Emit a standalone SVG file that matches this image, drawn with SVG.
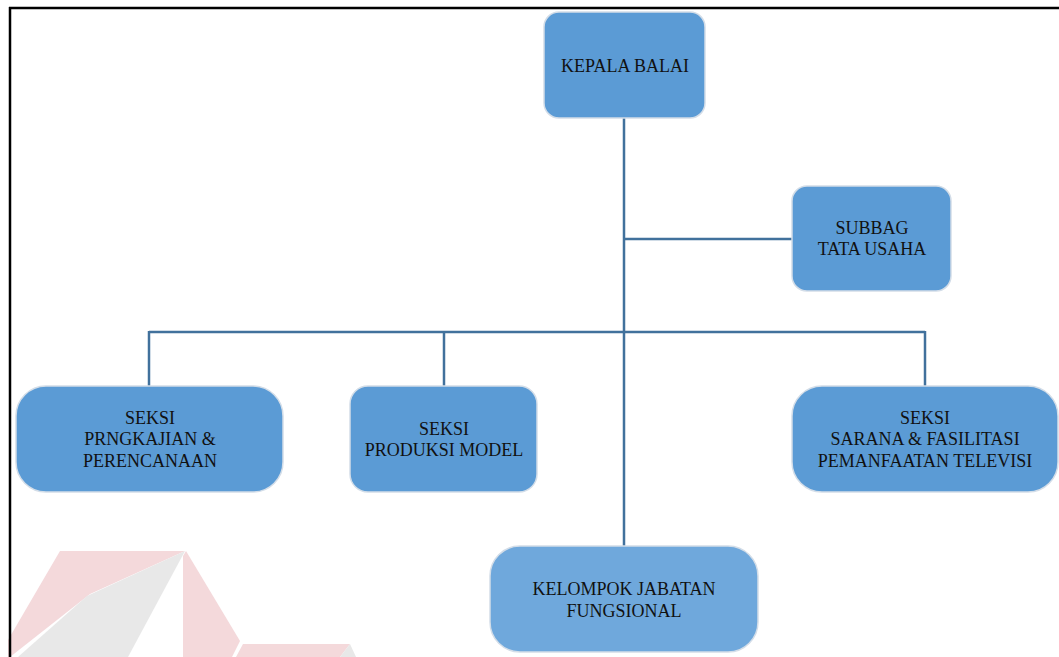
<svg xmlns="http://www.w3.org/2000/svg" width="1059" height="657" viewBox="0 0 1059 657">
<style>
.box{fill:#5B9BD5;stroke:#D3DDE8;stroke-width:1.5}
.box2{fill:#6FA8DC;stroke:#D3DDE8;stroke-width:1.5}
.t{font-family:"Liberation Serif","Times New Roman",serif;font-size:18px;fill:#111;text-anchor:middle}
.c{stroke:#41719C;stroke-width:2.5;fill:none}
</style>
<rect width="1059" height="657" fill="#fff"/>
<g id="watermark" opacity="0.9">
<polygon points="60,551 185,551 90,594 10,657 8,657 8,640" fill="#F3D5D8"/>
<polygon points="87,596 185,551 128,657 18,657" fill="#E6E6E6"/>
<polygon points="183,556 186,551 240,641 232,657 183,657" fill="#F3D5D8"/>
<polygon points="243,644 350,644 340,657 236,657" fill="#F3D5D8"/>
<polygon points="350,644 356,657 340,657" fill="#E6E6E6"/>
</g>
<g id="frame" stroke="#000" stroke-width="2.5" fill="none">
<line x1="9" y1="8" x2="1059" y2="8"/>
<line x1="10" y1="7" x2="10" y2="657"/>
</g>
<g id="connectors">
<line class="c" x1="624" y1="118" x2="624" y2="548"/>
<line class="c" x1="624" y1="239" x2="792" y2="239"/>
<line class="c" x1="149" y1="332" x2="925" y2="332"/>
<line class="c" x1="149" y1="331" x2="149" y2="387"/>
<line class="c" x1="444" y1="331" x2="444" y2="387"/>
<line class="c" x1="925" y1="331" x2="925" y2="387"/>
</g>
<g id="kepala">
<rect class="box" x="544" y="12" width="161" height="106" rx="15"/>
<text class="t" x="625" y="72">KEPALA BALAI</text>
</g>
<g id="subbag">
<rect class="box" x="792" y="186" width="159" height="105" rx="15"/>
<text class="t" x="872" y="234">SUBBAG</text>
<text class="t" x="872" y="255">TATA USAHA</text>
</g>
<g id="pengkajian">
<rect class="box" x="16" y="386" width="267" height="106" rx="30"/>
<text class="t" x="150" y="424">SEKSI</text>
<text class="t" x="150" y="445">PRNGKAJIAN &amp;</text>
<text class="t" x="150" y="467">PERENCANAAN</text>
</g>
<g id="produksi">
<rect class="box" x="350" y="386" width="187" height="106" rx="18"/>
<text class="t" x="444" y="435">SEKSI</text>
<text class="t" x="444" y="456">PRODUKSI MODEL</text>
</g>
<g id="sarana">
<rect class="box" x="792" y="386" width="266" height="106" rx="30"/>
<text class="t" x="925" y="424">SEKSI</text>
<text class="t" x="925" y="445">SARANA &amp; FASILITASI</text>
<text class="t" x="925" y="467">PEMANFAATAN TELEVISI</text>
</g>
<g id="kelompok">
<rect class="box2" x="490" y="546" width="268" height="106" rx="30"/>
<text class="t" x="624" y="595">KELOMPOK JABATAN</text>
<text class="t" x="624" y="617">FUNGSIONAL</text>
</g>
</svg>
